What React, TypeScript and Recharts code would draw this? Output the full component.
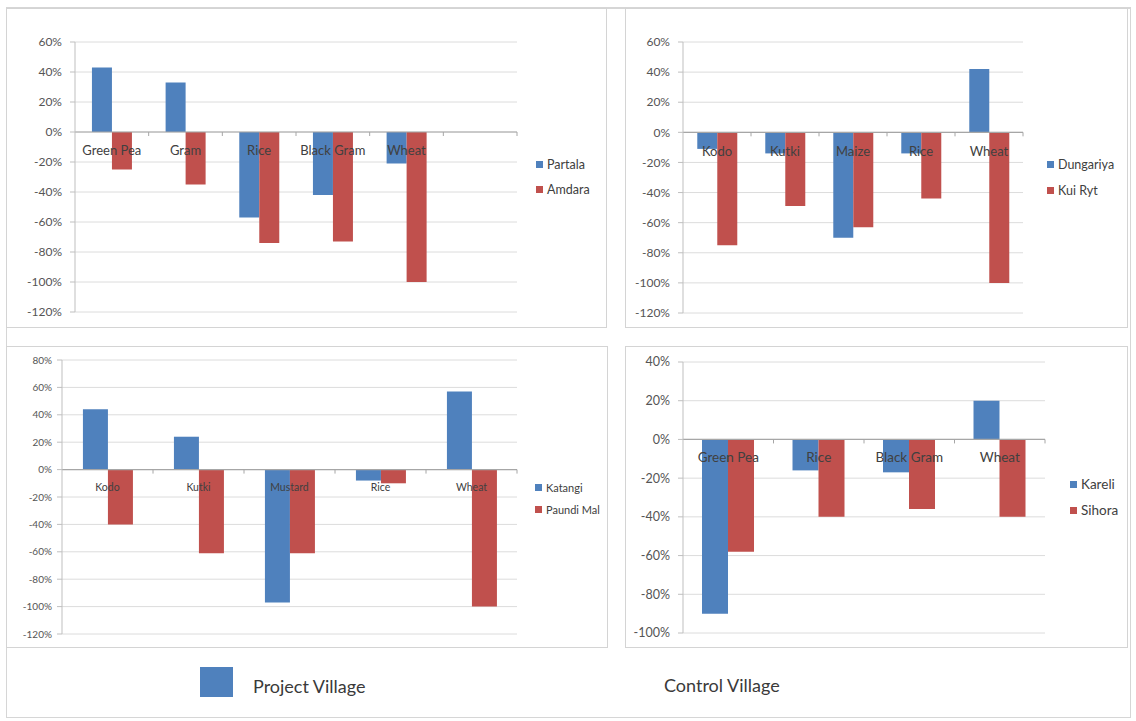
import { BarChart, Bar, XAxis, YAxis, CartesianGrid, ReferenceLine } from "recharts";

const BLUE = "#4F81BD";
const RED = "#C0504D";
const FONT = "Lato, 'Open Sans', sans-serif";

// top-left: Partala vs Amdara (last slot is an empty category)
const crops1 = ["Green Pea", "Gram", "Rice", "Black Gram", "Wheat", ""];
const partala = [43, 33, -57, -42, -21, null];
const amdara = [-25, -35, -74, -73, -100, null];
const ticks1 = [60, 40, 20, 0, -20, -40, -60, -80, -100, -120];

// top-right: Dungariya vs Kui Ryt
const crops2 = ["Kodo", "Kutki", "Maize", "Rice", "Wheat"];
const dungariya = [-11, -14, -70, -14, 42];
const kuiRyt = [-75, -49, -63, -44, -100];
const ticks2 = [60, 40, 20, 0, -20, -40, -60, -80, -100, -120];

// bottom-left: Katangi vs Paundi Mal
const crops3 = ["Kodo", "Kutki", "Mustard", "Rice", "Wheat"];
const katangi = [44, 24, -97, -8, 57];
const paundiMal = [-40, -61, -61, -10, -100];
const ticks3 = [80, 60, 40, 20, 0, -20, -40, -60, -80, -100, -120];

// bottom-right: Kareli vs Sihora
const crops4 = ["Green Pea", "Rice", "Black Gram", "Wheat"];
const kareli = [-90, -16, -17, 20];
const sihora = [-58, -40, -36, -40];
const ticks4 = [40, 20, 0, -20, -40, -60, -80, -100];

type Series = { name: string; values: (number | null)[]; color: string };

interface PanelProps {
  categories: string[];
  series: Series[];
  ticks: number[];
  box: { x: number; y: number; w: number; h: number };
  plot: { left: number; top: number; right: number; bottom: number };
  catFont: number;
  catDy: number;
  yFont: number;
  yMargin: number;
  gap: string;
  legend: { x: number; ys: number[]; font: number };
}

const Y_AXIS_W = 50;
const X_AXIS_H = 20;

// category names sit just under the zero line, Excel style
function CategoryTick(props: any) {
  const { x, payload, zeroY, font, dy, band } = props;
  return (
    <g>
      <line x1={x + band / 2} x2={x + band / 2} y1={zeroY} y2={zeroY + 4} stroke="#a6a6a6" />
      <text
        x={x}
        y={zeroY + dy}
        textAnchor="middle"
        dominantBaseline="central"
        fontSize={font}
        fill="#404040"
      >
        {payload.value}
      </text>
    </g>
  );
}

function Panel({ categories, series, ticks, box, plot, catFont, catDy, yFont, yMargin, gap, legend }: PanelProps) {
  const yMax = Math.max(...ticks);
  const yMin = Math.min(...ticks);
  const plotH = plot.bottom - plot.top;
  const band = (plot.right - plot.left) / categories.length;
  const zeroY = plot.top - box.y + (plotH * yMax) / (yMax - yMin);

  const data = categories.map((name, i) => {
    const row: Record<string, string | number | null> = { name };
    series.forEach((s, k) => {
      row["s" + k] = s.values[i];
    });
    return row;
  });

  const margin = {
    left: plot.left - box.x - Y_AXIS_W,
    top: plot.top - box.y,
    right: box.x + box.w - plot.right,
    bottom: box.y + box.h - plot.bottom - X_AXIS_H,
  };

  return (
    <>
      <div
        style={{
          position: "absolute",
          left: box.x,
          top: box.y,
          width: box.w,
          height: box.h,
          border: "1.5px solid #d4d4d4",
          boxSizing: "border-box",
          background: "#fff",
        }}
      />
      <div style={{ position: "absolute", left: box.x, top: box.y }}>
        <BarChart
          width={box.w}
          height={box.h}
          data={data}
          margin={margin}
          barGap={0}
          barCategoryGap={gap}
          style={{ fontFamily: FONT }}
        >
          <CartesianGrid vertical={false} stroke="#dcdcdc" />
          <YAxis
            type="number"
            domain={[yMin, yMax]}
            ticks={ticks}
            interval={0}
            width={Y_AXIS_W}
            tickFormatter={(v: number) => `${v}%`}
            stroke="#bfbfbf"
            tickSize={5}
            tickMargin={yMargin}
            tick={{ fontSize: yFont, fill: "#555" }}
          />
          {series.map((s, k) => (
            <Bar key={s.name} dataKey={"s" + k} name={s.name} fill={s.color} isAnimationActive={false} />
          ))}
          <ReferenceLine y={0} stroke="#a6a6a6" strokeWidth={1.2} />
          <XAxis
            dataKey="name"
            height={X_AXIS_H}
            axisLine={false}
            tickLine={false}
            interval={0}
            tick={<CategoryTick zeroY={zeroY} font={catFont} dy={catDy} band={band} />}
          />
        </BarChart>
      </div>
      {series.map((s, k) => (
        <div
          key={s.name}
          style={{
            position: "absolute",
            left: legend.x,
            top: legend.ys[k] - 10,
            height: 20,
            display: "flex",
            alignItems: "center",
            fontFamily: FONT,
            fontSize: legend.font,
            color: "#404040",
            whiteSpace: "nowrap",
          }}
        >
          <span style={{ width: 7, height: 7, background: s.color, marginRight: 4, display: "inline-block" }} />
          {s.name}
        </div>
      ))}
    </>
  );
}

export default function App() {
  return (
    <div
      style={{
        position: "absolute",
        left: 0,
        top: 0,
        width: 1136,
        height: 721,
        background: "#fff",
        fontFamily: FONT,
        overflow: "hidden",
      }}
    >
      <div
        style={{
          position: "absolute",
          left: 6,
          top: 7,
          width: 1125,
          height: 711,
          border: "1.5px solid #d6d6d6",
          borderTopWidth: 2.5,
          boxSizing: "border-box",
        }}
      />
      <Panel
        categories={crops1}
        series={[
          { name: "Partala", values: partala, color: BLUE },
          { name: "Amdara", values: amdara, color: RED },
        ]}
        ticks={ticks1}
        box={{ x: 6, y: 8, w: 601, h: 320 }}
        plot={{ left: 75, top: 42, right: 517, bottom: 312 }}
        catFont={13}
        catDy={18}
        yFont={12}
        yMargin={8}
        gap="23%"
        legend={{ x: 536, ys: [164, 189], font: 12.5 }}
      />
      <Panel
        categories={crops2}
        series={[
          { name: "Dungariya", values: dungariya, color: BLUE },
          { name: "Kui Ryt", values: kuiRyt, color: RED },
        ]}
        ticks={ticks2}
        box={{ x: 625, y: 8, w: 503, h: 320 }}
        plot={{ left: 683, top: 42, right: 1023, bottom: 313 }}
        catFont={13}
        catDy={19}
        yFont={12}
        yMargin={8}
        gap="21%"
        legend={{ x: 1047, ys: [164, 190], font: 12.5 }}
      />
      <Panel
        categories={crops3}
        series={[
          { name: "Katangi", values: katangi, color: BLUE },
          { name: "Paundi Mal", values: paundiMal, color: RED },
        ]}
        ticks={ticks3}
        box={{ x: 6, y: 346, w: 602, h: 302 }}
        plot={{ left: 62, top: 360, right: 517, bottom: 634 }}
        catFont={10.5}
        catDy={17}
        yFont={10}
        yMargin={5}
        gap="23%"
        legend={{ x: 535, ys: [487, 509], font: 11 }}
      />
      <Panel
        categories={crops4}
        series={[
          { name: "Kareli", values: kareli, color: BLUE },
          { name: "Sihora", values: sihora, color: RED },
        ]}
        ticks={ticks4}
        box={{ x: 625, y: 346, w: 503, h: 302 }}
        plot={{ left: 683, top: 362, right: 1045, bottom: 633 }}
        catFont={13.5}
        catDy={18}
        yFont={12.5}
        yMargin={8}
        gap="21%"
        legend={{ x: 1070, ys: [484, 510], font: 13.5 }}
      />

      {/* bottom key */}
      <div style={{ position: "absolute", left: 200, top: 667, width: 33, height: 30, background: BLUE }} />
      <div style={{ position: "absolute", left: 253, top: 674, fontSize: 18, color: "#3a3a3a", lineHeight: "24px" }}>
        Project Village
      </div>
      <div style={{ position: "absolute", left: 664, top: 673, fontSize: 18, color: "#3a3a3a", lineHeight: "24px" }}>
        Control Village
      </div>
    </div>
  );
}
